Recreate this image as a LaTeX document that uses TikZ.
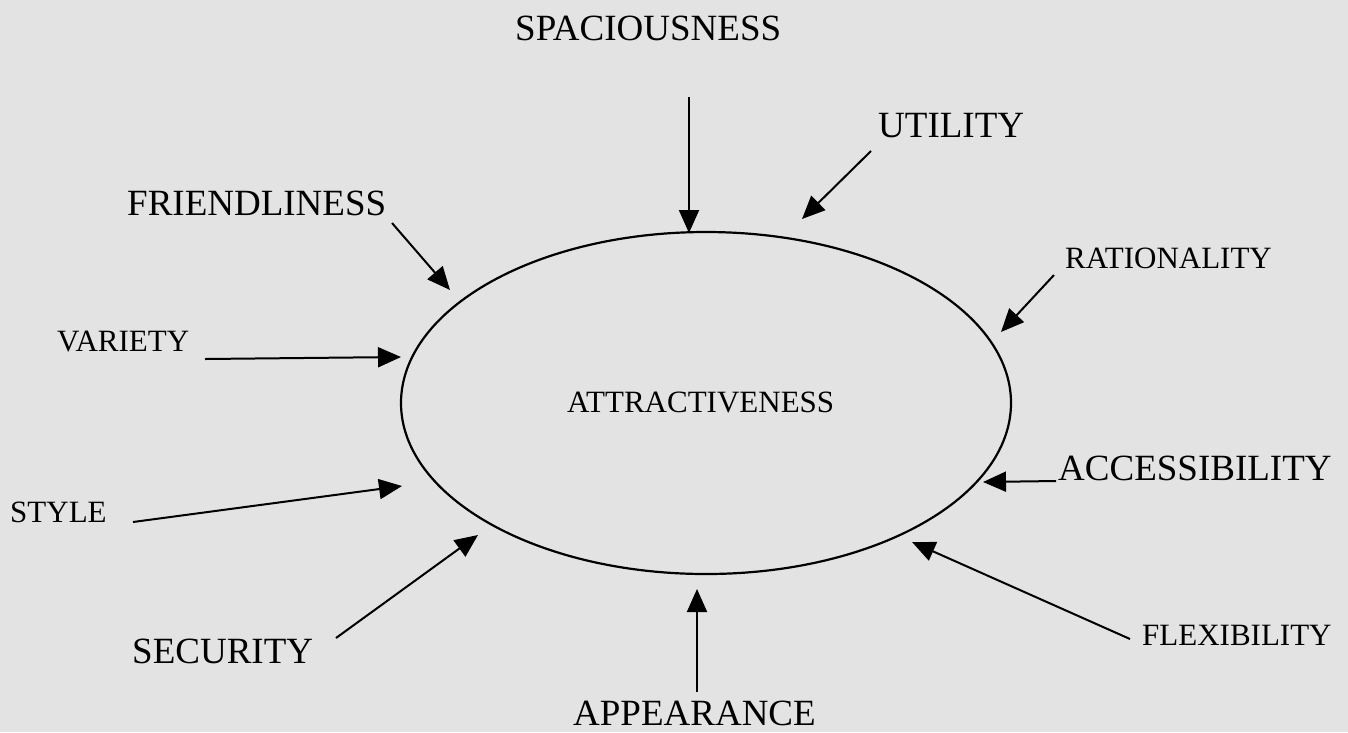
\documentclass[tikz,border=0pt]{standalone}
\usepackage{fontspec}
\setmainfont{Liberation Serif}
\usetikzlibrary{arrows.meta,shapes.geometric}
\tikzset{
  big/.style={anchor=base west,inner sep=0pt,font=\fontsize{37}{40}\selectfont},
  small/.style={anchor=base west,inner sep=0pt,font=\fontsize{31}{34}\selectfont},
  arr/.style={line width=2pt,-{Triangle[length=23pt,width=20pt]}},
}
\begin{document}
\begin{tikzpicture}[x=1pt,y=-1pt]
\fill[black!11] (0,0) rectangle (1348,732);
\useasboundingbox (0,0) rectangle (1348,732);
% central ellipse
\node[ellipse,draw,line width=2.2pt,minimum width=610pt,minimum height=342pt,inner sep=0pt] (ell) at (706,403) {};
\node[small] (att) at (567,412) {ATTRACTIVENESS};
% labels
\node[big] (spa) at (515,40) {SPACIOUSNESS};
\node[big] (uti) at (878,137) {UTILITY};
\node[small] (rat) at (1065,268) {RATIONALITY};
\node[big] (fri) at (127,215) {FRIENDLINESS};
\node[small] (var) at (57,351) {VARIETY};
\node[big] (acc) at (1058,480) {ACCESSIBILITY};
\node[small] (sty) at (10,522) {STYLE};
\node[small] (fle) at (1142,645) {FLEXIBILITY};
\node[big] (sec) at (132,663) {SECURITY};
\node[big] (app) at (573,725) {APPEARANCE};
% arrow start points
\coordinate (spaS) at (689,97);
\coordinate (utiS) at (871,151);
\coordinate (ratS) at (1054,275);
\coordinate (friS) at (392,223);
\coordinate (varS) at (205,359);
\coordinate (accS) at (1056,481);
\coordinate (styS) at (133,522);
\coordinate (fleS) at (1130,639);
\coordinate (secS) at (336,638);
\coordinate (appS) at (697,692);
% arrow tips
\coordinate (spaT) at (689,233);
\coordinate (utiT) at (802,219);
\coordinate (ratT) at (1001,332);
\coordinate (friT) at (450,290);
\coordinate (varT) at (401,357);
\coordinate (accT) at (983,482);
\coordinate (styT) at (402,486);
\coordinate (fleT) at (912,542);
\coordinate (secT) at (478,535);
\coordinate (appT) at (697,589);
% connectors
\draw[arr] (spaS) -- (spaT);
\draw[arr] (utiS) -- (utiT);
\draw[arr] (ratS) -- (ratT);
\draw[arr] (friS) -- (friT);
\draw[arr] (varS) -- (varT);
\draw[arr] (accS) -- (accT);
\draw[arr] (styS) -- (styT);
\draw[arr] (fleS) -- (fleT);
\draw[arr] (secS) -- (secT);
\draw[arr] (appS) -- (appT);
\end{tikzpicture}
\end{document}
